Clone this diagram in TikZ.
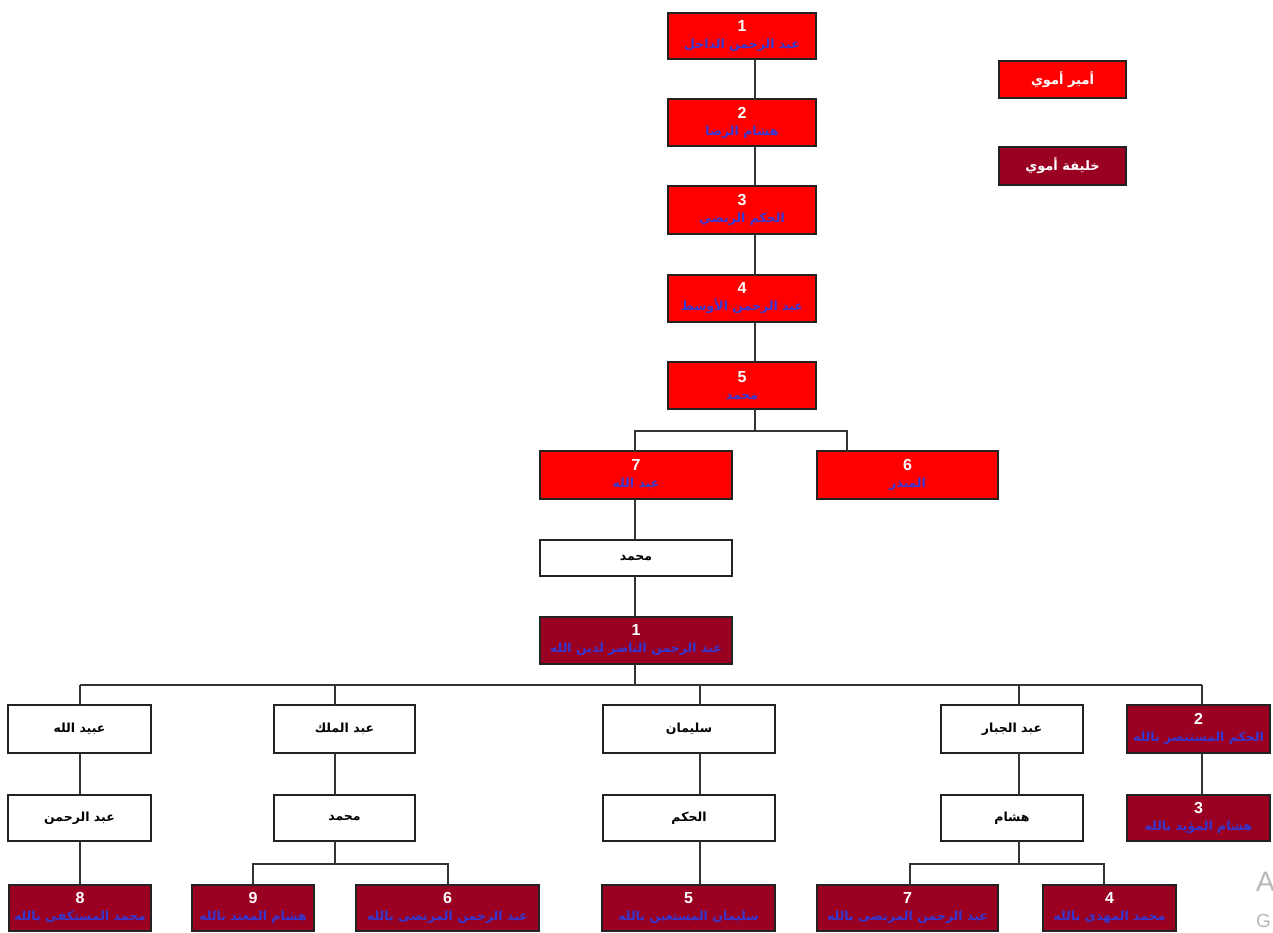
\documentclass[tikz,border=0pt]{standalone}
\usepackage{fontspec}
\setmainfont{Liberation Sans}
\newfontfamily\arabicfont[Script=Arabic]{DejaVu Sans}
\TeXXeTstate=1
\definecolor{amirred}{HTML}{FF0000}
\definecolor{khalred}{HTML}{990022}
\definecolor{nameblue}{HTML}{3438D0}
\definecolor{boxline}{HTML}{222222}
\definecolor{linegray}{HTML}{333333}
\newcommand\artxt[1]{{\arabicfont\bfseries #1}}
\newcommand\rul[2]{{\fontsize{16}{16}\selectfont\bfseries\color{white}#1}\\[3pt]{\color{nameblue}\artxt{#2}}}
\tikzset{
  base/.style={draw=boxline, line width=1.4pt, anchor=north west, align=center, inner sep=0pt, outer sep=0pt, font=\fontsize{12.5}{14}\selectfont},
  amir/.style={base, fill=amirred},
  khalifa/.style={base, fill=khalred},
  plain/.style={base, fill=white},
  wh/.style 2 args={minimum width=#1pt, minimum height=#2pt},
  link/.style={draw=linegray, line width=1.6pt},
}
\begin{document}
\begin{tikzpicture}[x=1pt,y=-1pt]
\useasboundingbox (0,0) rectangle (1273,932);
% emirs
\node[amir, wh={148}{46}] (a1) at (668,13) {\rul{1}{\beginR عبد الرحمن الداخل\endR}};
\node[amir, wh={148}{47}] (a2) at (668,99) {\rul{2}{\beginR هشام الرضا\endR}};
\node[amir, wh={148}{48}] (a3) at (668,186) {\rul{3}{\beginR الحكم الربضي\endR}};
\node[amir, wh={148}{47}] (a4) at (668,275) {\rul{4}{\beginR عبد الرحمن الأوسط\endR}};
\node[amir, wh={148}{47}] (a5) at (668,362) {\rul{5}{\beginR محمد\endR}};
\node[amir, wh={192}{48}] (a7) at (540,451) {\rul{7}{\beginR عبد الله\endR}};
\node[amir, wh={181}{48}] (a6) at (817,451) {\rul{6}{\beginR المنذر\endR}};
% legend
\node[amir, wh={127}{37}, font=\fontsize{13}{15}\selectfont] (leg1) at (999,61) {\color{white}\artxt{\beginR أمير أموي\endR}};
\node[khalifa, wh={127}{38}, font=\fontsize{13}{15}\selectfont] (leg2) at (999,147) {\color{white}\artxt{\beginR خليفة أموي\endR}};
% middle
\node[plain, wh={192}{36}] (m0) at (540,540) {\artxt{\beginR محمد\endR}};
\node[khalifa, wh={192}{47}] (k1) at (540,617) {\rul{1}{\beginR عبد الرحمن الناصر لدين الله\endR}};
% sons
\node[plain, wh={143}{48}] (w1) at (8,705) {\artxt{\beginR عبيد الله\endR}};
\node[plain, wh={141}{48}] (w2) at (274,705) {\artxt{\beginR عبد الملك\endR}};
\node[plain, wh={172}{48}] (w3) at (603,705) {\artxt{\beginR سليمان\endR}};
\node[plain, wh={142}{48}] (w4) at (941,705) {\artxt{\beginR عبد الجبار\endR}};
\node[khalifa, wh={143}{48}] (k2) at (1127,705) {\rul{2}{\beginR الحكم المستنصر بالله\endR}};
% grandsons
\node[plain, wh={143}{46}] (v1) at (8,795) {\artxt{\beginR عبد الرحمن\endR}};
\node[plain, wh={141}{46}] (v2) at (274,795) {\artxt{\beginR محمد\endR}};
\node[plain, wh={172}{46}] (v3) at (603,795) {\artxt{\beginR الحكم\endR}};
\node[plain, wh={142}{46}] (v4) at (941,795) {\artxt{\beginR هشام\endR}};
\node[khalifa, wh={143}{46}] (k3) at (1127,795) {\rul{3}{\beginR هشام المؤيد بالله\endR}};
% bottom caliphs
\node[khalifa, wh={142}{46}] (b8) at (9,885) {\rul{8}{\beginR محمد المستكفي بالله\endR}};
\node[khalifa, wh={122}{46}] (b9) at (192,885) {\rul{9}{\beginR هشام المعتد بالله\endR}};
\node[khalifa, wh={183}{46}] (b6) at (356,885) {\rul{6}{\beginR عبد الرحمن المرتضى بالله\endR}};
\node[khalifa, wh={173}{46}] (b5) at (602,885) {\rul{5}{\beginR سليمان المستعين بالله\endR}};
\node[khalifa, wh={181}{46}] (b7) at (817,885) {\rul{7}{\beginR عبد الرحمن المرتضى بالله\endR}};
\node[khalifa, wh={133}{46}] (b4) at (1043,885) {\rul{4}{\beginR محمد المهدي بالله\endR}};
% watermark fragments
\node[anchor=north west, inner sep=0pt, text=black!28, font=\fontsize{28}{28}\selectfont] (wmA) at (1256,872) {A};
\node[anchor=north west, inner sep=0pt, text=black!28, font=\fontsize{19}{19}\selectfont] (wmG) at (1256,914) {G};
% connectors
\coordinate (xa) at (755,0);
\draw[link] (a1.south -| xa) -- (a2.north -| xa);
\draw[link] (a2.south -| xa) -- (a3.north -| xa);
\draw[link] (a3.south -| xa) -- (a4.north -| xa);
\draw[link] (a4.south -| xa) -- (a5.north -| xa);
\coordinate (c5) at (755,431);
\coordinate (c7) at (635,431);
\coordinate (c6) at (847,431);
\draw[link] (a5.south -| c5) -- (c5);
\draw[link] (a7.north -| c7) -- (c7) -- (c6) -- (a6.north -| c6);
\coordinate (xm) at (635,0);
\draw[link] (a7.south -| xm) -- (m0.north -| xm);
\draw[link] (m0.south -| xm) -- (k1.north -| xm);
\coordinate (bk) at (635,685);
\draw[link] (k1.south -| bk) -- (bk);
\coordinate (p1) at (80,685);
\coordinate (p2) at (335,685);
\coordinate (p3) at (700,685);
\coordinate (p4) at (1019,685);
\coordinate (p5) at (1202,685);
\draw[link] (p1) -- (p5);
\foreach \p/\a/\b in {p1/w1/v1, p2/w2/v2, p3/w3/v3, p4/w4/v4, p5/k2/k3} {
  \draw[link] (\p) -- (\a.north -| \p);
  \draw[link] (\a.south -| \p) -- (\b.north -| \p);
}
\draw[link] (v1.south -| p1) -- (b8.north -| p1);
\draw[link] (v3.south -| p3) -- (b5.north -| p3);
\coordinate (q2) at (335,864);
\coordinate (q9) at (253,864);
\coordinate (q6) at (448,864);
\draw[link] (v2.south -| q2) -- (q2);
\draw[link] (b9.north -| q9) -- (q9) -- (q6) -- (b6.north -| q6);
\coordinate (q4) at (1019,864);
\coordinate (q7) at (910,864);
\coordinate (q4b) at (1104,864);
\draw[link] (v4.south -| q4) -- (q4);
\draw[link] (b7.north -| q7) -- (q7) -- (q4b) -- (b4.north -| q4b);
\end{tikzpicture}
\end{document}
